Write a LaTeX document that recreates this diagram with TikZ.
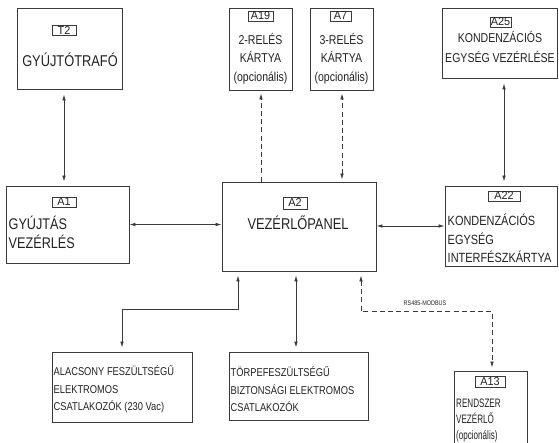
\documentclass[tikz,border=0pt]{standalone}
\usepackage{fontspec}
\setmainfont{Liberation Sans}[FakeStretch=0.82]
\newfontfamily\narrowfont{Liberation Sans}[FakeStretch=0.66]
\newfontfamily\tagfont{Liberation Sans}[FakeStretch=0.95]
\usetikzlibrary{arrows.meta,calc}
\definecolor{linegrey}{HTML}{3A3A3A}
\definecolor{inkgrey}{HTML}{222222}
\newcommand{\fs}[2]{\fontsize{#1}{#2}\selectfont}
\begin{document}
\begin{tikzpicture}[x=1bp,y=-1bp,
  box/.style={draw=linegrey,line width=0.9bp,inner sep=0pt,minimum width=#1},
  tag/.style={draw=linegrey,line width=0.8bp,inner sep=0pt,text=inkgrey,font=\tagfont\fs{11.5}{12}},
  txt/.style={inner sep=0pt,text=inkgrey},
  lefttxt/.style={txt,anchor=west,align=left},
  midtxt/.style={txt,align=center},
  conn/.style={draw=linegrey,line width=0.8bp,>={Latex[length=6bp,width=3.6bp]}},
  dashconn/.style={conn,dash pattern=on 5bp off 3.2bp}
]
\clip (0,0) rectangle (559,443);
\fill[white] (0,0) rectangle (559,443);

% component boxes
\node[box=105bp,minimum height=81bp] (T2)  at (69.5,48.5) {};
\node[box=63bp, minimum height=82bp] (A19) at (260.5,49) {};
\node[box=63bp, minimum height=82bp] (A7)  at (341.5,49) {};
\node[box=115bp,minimum height=70bp] (A25) at (499.5,43) {};
\node[box=123bp,minimum height=77bp] (A1)  at (67.5,224.5) {};
\node[box=154bp,minimum height=89bp] (A2)  at (299,226.5) {};
\node[box=112bp,minimum height=80bp] (A22) at (501,226) {};
\node[box=140bp,minimum height=70bp] (LV)  at (122,387) {};
\node[box=139bp,minimum height=68bp] (TV)  at (298.5,386) {};
\node[box=73bp, minimum height=78bp] (A13) at (490.5,410) {};

% reference tags
\node[tag,minimum width=24bp,minimum height=10bp] (tT2)  at (64,30.5) {T2};
\node[tag,minimum width=25bp,minimum height=10bp] (tA19) at (260.5,16) {A19};
\node[tag,minimum width=21bp,minimum height=10bp] (tA7)  at (340.5,16) {A7};
\node[tag,minimum width=21bp,minimum height=10bp] (tA25) at (500.5,22) {A25};
\node[tag,minimum width=24bp,minimum height=10bp] (tA1)  at (64,202) {A1};
\node[tag,minimum width=24bp,minimum height=12bp] (tA2)  at (295,203) {A2};
\node[tag,minimum width=32bp,minimum height=10bp] (tA22) at (504,196) {A22};
\node[tag,minimum width=30bp,minimum height=11bp] (tA13) at (490,382) {A13};

% box labels
\node[midtxt,font=\fs{15.7}{16}] (lT2) at (70,60) {GYÚJTÓTRAFÓ};
\node[midtxt,font=\fs{12.9}{18.5}] (lA19) at (260.5,58.5) {2-RELÉS\\KÁRTYA\\(opcionális)};
\node[midtxt,font=\fs{12.9}{18.5}] (lA7)  at (341.5,58.5) {3-RELÉS\\KÁRTYA\\(opcionális)};
\node[midtxt,font=\fs{12.9}{20}] (lA25) at (500,47) {KONDENZÁCIÓS\\EGYSÉG VEZÉRLÉSE};
\node[lefttxt,font=\fs{15.5}{19}] (lA1) at (8.5,232.5) {GYÚJTÁS\\VEZÉRLÉS};
\node[midtxt,font=\fs{15.7}{16}] (lA2) at (298,223) {VEZÉRLŐPANEL};
\node[lefttxt,font=\fs{13.4}{18.5}] (lA22) at (447.5,238.5) {KONDENZÁCIÓS\\EGYSÉG\\INTERFÉSZKÁRTYA};
\node[lefttxt,font=\fs{11.4}{17.5}] (lLV) at (53.5,389.5) {ALACSONY FESZÜLTSÉGŰ\\ELEKTROMOS\\CSATLAKOZÓK (230 Vac)};
\node[lefttxt,font=\fs{11.4}{17.5}] (lTV) at (230.5,389.5) {TÖRPEFESZÜLTSÉGŰ\\BIZTONSÁGI ELEKTROMOS\\CSATLAKOZÓK};
\node[lefttxt,font=\narrowfont\fs{12.3}{16.5}] (lA13) at (456,420.5) {RENDSZER\\VEZÉRLŐ\\(opcionális)};

% connections
\draw[conn,<->,shorten <=5bp,shorten >=4bp] ([xshift=-5.5bp]T2.south) -- ([xshift=-5.5bp]T2.south |- A1.north);
\draw[conn,<->,shorten <=5bp,shorten >=4bp] ([xshift=4.5bp]A25.south) -- ([xshift=4.5bp]A25.south |- A22.north);
\draw[conn,<->] (A1.east) -- (A1.east -| A2.west);
\draw[conn,<->] (A22.west -| A2.east) -- (A22.west);
\draw[dashconn,->,shorten >=3bp] ([xshift=0.5bp]A19.south |- A2.north) -- ([xshift=0.5bp]A19.south);
\draw[dashconn,<->,shorten <=2bp,shorten >=3bp] ([xshift=0.5bp]A7.south |- A2.north) -- ([xshift=0.5bp]A7.south);
\draw[conn,<->,shorten <=4bp,shorten >=4bp] ([xshift=-61bp]A2.south) -- ++(0,38) -| (LV.north);
\draw[conn,<->,shorten <=4bp,shorten >=4bp] ([xshift=-3bp]A2.south) -- ([xshift=-3bp]A2.south |- TV.north);
\draw[dashconn,<->,shorten <=4bp,shorten >=3bp] ([xshift=62bp]A2.south) -- ++(0,40) -| ([xshift=1.5bp]A13.north);
\node[txt,font=\fs{6.7}{7}] (rs) at (425,303) {RS485-MODBUS};
\end{tikzpicture}
\end{document}
